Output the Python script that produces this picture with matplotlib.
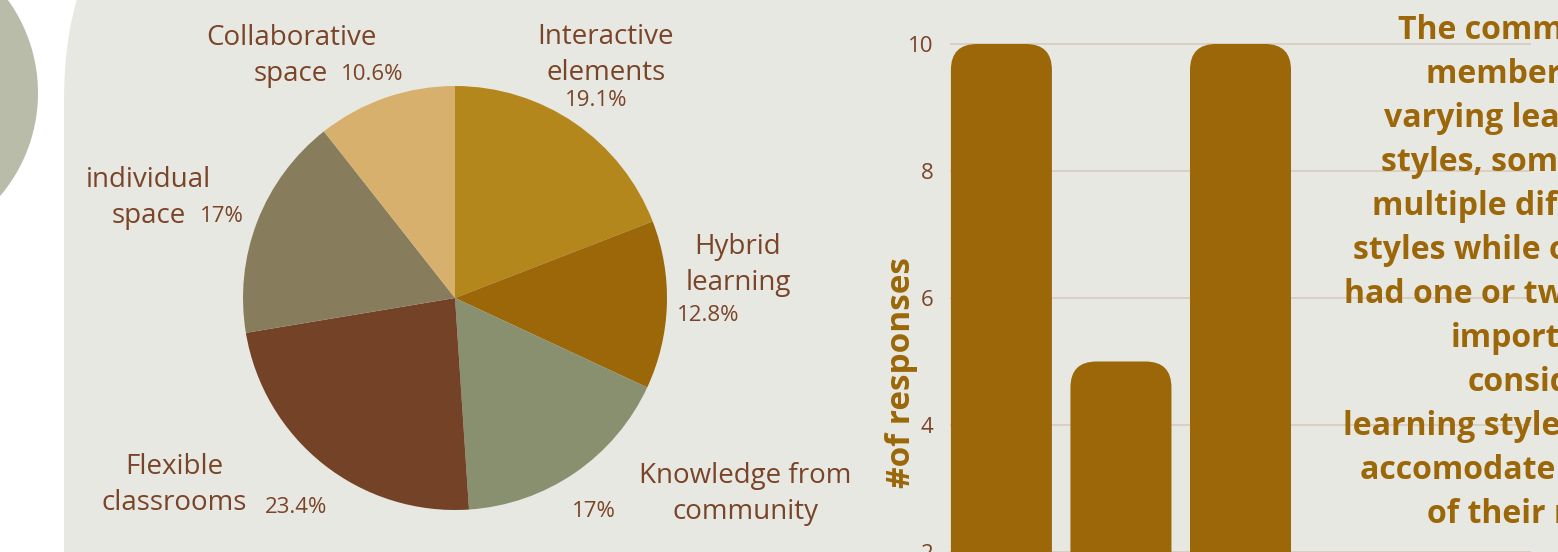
import matplotlib
matplotlib.use("Agg")
import matplotlib.pyplot as plt
from matplotlib.patches import FancyBboxPatch, Circle

# ---------------- data ----------------
pie_labels = ["Interactive\nelements", "Hybrid\nlearning", "Knowledge from\ncommunity",
              "Flexible\nclassrooms", "individual\nspace", "Collaborative\nspace"]
pie_values = [19.1, 12.8, 17.0, 23.4, 17.0, 10.6]
pie_pct_text = ["19.1%", "12.8%", "17%", "23.4%", "17%", "10.6%"]
pie_colors = ["#b3871c", "#9b6708", "#889070", "#744327", "#877d5c", "#d6b06c"]

bar_categories = ["Style A", "Style B", "Style C"]
bar_values = [10, 5, 10]
y_ticks = [2, 4, 6, 8, 10]
y_label = "#of responses"

note_lines = ["The community", "members had", "varying learning", "styles, some had",
              "multiple different", "styles while others", "had one or two. It is",
              "important", "consider", "learning styles to", "accomodate all",
              "of their needs."]

# ---------------- style ----------------
W, H = 1558, 552
PANEL = "#e8e8e2"
TXT = "#7a4428"
GOLD = "#9b6708"
LABEL_FONT = ["Open Sans", "DejaVu Sans"]

fig = plt.figure(figsize=(W / 100, H / 100), dpi=100)
fig.patch.set_facecolor("white")


def fx(px):
    return px / W


def fy(py):
    return 1 - py / H


# background layer in pixel coordinates (y down)
bg = fig.add_axes([0, 0, 1, 1], zorder=0)
bg.set_xlim(0, W)
bg.set_ylim(H, 0)
bg.axis("off")
bg.add_patch(FancyBboxPatch((64, -150), 1800, 1400,
                            boxstyle="round,pad=0,rounding_size=250",
                            fc=PANEL, ec="none"))
bg.add_patch(Circle((-121, 93), 159, fc="#b9bca8", ec="none"))

# ---------------- pie ----------------
cx, cy, r = 455, 298, 212
pax = fig.add_axes([fx(cx - r), fy(cy + r), 2 * r / W, 2 * r / H], zorder=1)
pax.pie(pie_values, colors=pie_colors, startangle=90, counterclock=False,
        wedgeprops=dict(linewidth=0))
pax.set_xlim(-1, 1)
pax.set_ylim(-1, 1)
pax.set_aspect("equal")
pax.axis("off")

# label anchors (center x, baseline y of first line) and percent anchors
label_pos = [(606, 44), (738, 254), (745, 483), (174, 474), (149, 187), (291, 45)]
pct_pos = [(596, 106), (708, 321), (594, 517), (296, 513), (222, 222), (372, 80)]
line_gap = 36
for lab, (lx, ly), pct, (qx, qy) in zip(pie_labels, label_pos, pie_pct_text, pct_pos):
    for k, line in enumerate(lab.split("\n")):
        fig.text(fx(lx), fy(ly + k * line_gap), line, ha="center", va="baseline",
                 fontsize=20, color=TXT, family=LABEL_FONT)
    fig.text(fx(qx), fy(qy), pct, ha="center", va="baseline",
             fontsize=16, color=TXT, family=LABEL_FONT)

# ---------------- bars ----------------
bx0, bx1 = 950, 1531
bax = fig.add_axes([fx(bx0), 0, (bx1 - bx0) / W, 1], zorder=2)
bax.set_facecolor("none")
bax.set_xlim(-0.43, 4.43)
bax.set_ylim(2, 10 + 44 / 63.5)
pos = list(range(len(bar_values)))
bars = bax.bar(pos, bar_values, width=0.845, color=GOLD, zorder=3,
               tick_label=bar_categories)
bax.set_xticks([])
bax.set_yticks(y_ticks)
bax.set_yticklabels([str(t) for t in y_ticks], fontsize=16, color=TXT, family=LABEL_FONT)
bax.tick_params(axis="y", length=0, pad=12)
bax.grid(axis="y", color="#d6c8bc", linewidth=1.1, zorder=0)
bax.set_axisbelow(True)
for s in bax.spines.values():
    s.set_visible(False)
bax.set_ylabel(y_label, fontsize=24, fontweight="bold", color=GOLD,
               family=LABEL_FONT, labelpad=2)
bax.yaxis.set_label_coords(-0.055, 1 - 373 / H)

# rounded tops for the bars
fig.canvas.draw()
x_px = bax.transData.transform((1, 0))[0] - bax.transData.transform((0, 0))[0]
y_px = bax.transData.transform((0, 1))[1] - bax.transData.transform((0, 0))[1]
rad_px = 26
for b in bars:
    b.set_visible(False)
    bax.add_patch(FancyBboxPatch((b.get_x(), b.get_y() - 3), b.get_width(), b.get_height() + 3,
                                 boxstyle=f"round,pad=0,rounding_size={rad_px / x_px}",
                                 mutation_aspect=x_px / y_px,
                                 fc=GOLD, ec="none", zorder=3))

# ---------------- note text ----------------
note_x = [1398, 1426, 1384, 1381, 1372, 1353, 1344, 1451, 1468, 1343, 1360, 1427]
for k, (line, x0) in enumerate(zip(note_lines, note_x)):
    fig.text(fx(x0), fy(38.7 + k * 44), line, ha="left", va="baseline",
             fontsize=23, fontweight="bold", color=GOLD, family=LABEL_FONT, zorder=5)

fig.savefig("out.png", dpi=100, facecolor=fig.get_facecolor())
